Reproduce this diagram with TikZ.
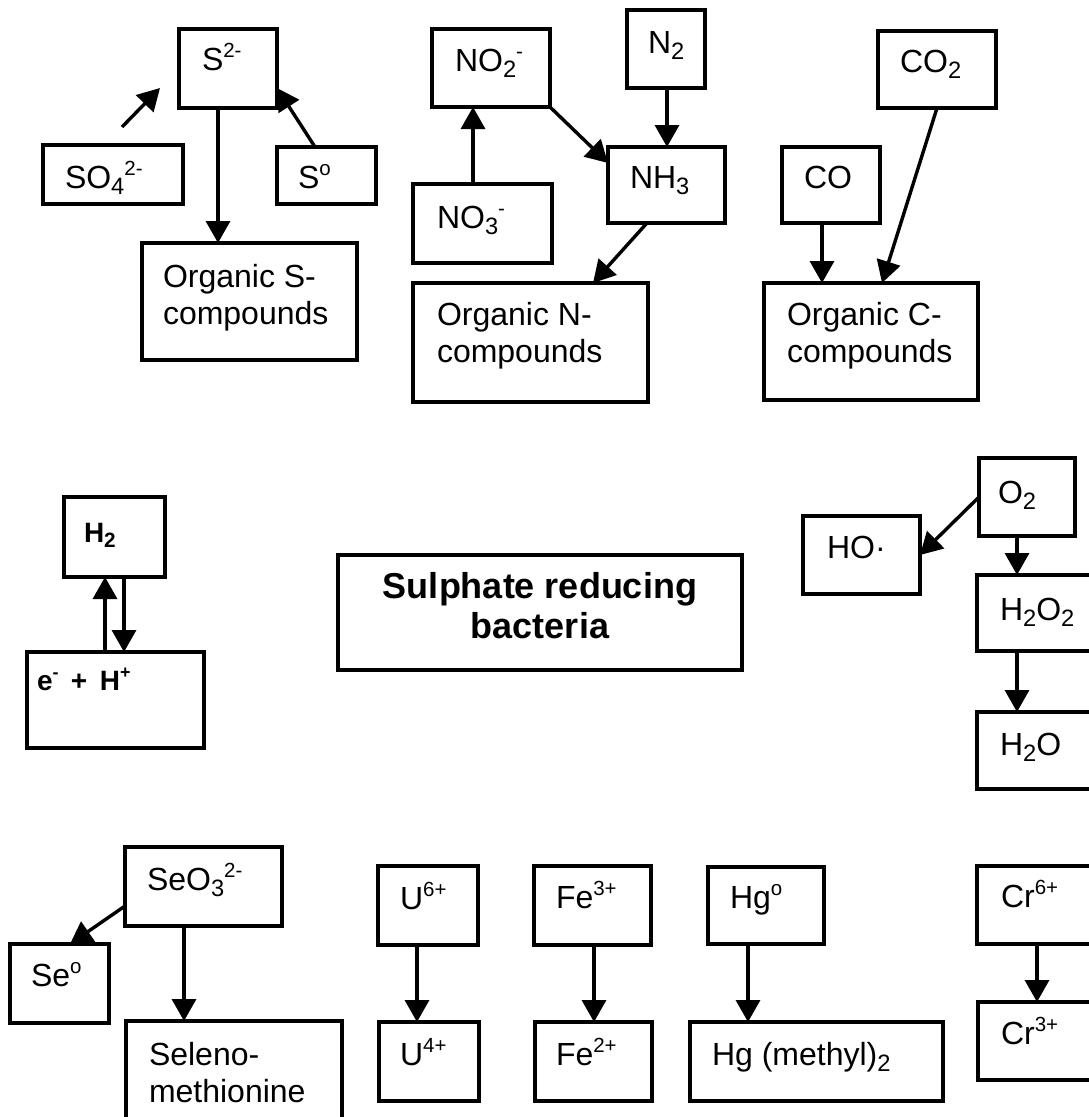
\documentclass[tikz,border=0pt]{standalone}
\usepackage{fontspec}
\usepackage{graphicx}
\setmainfont{Liberation Sans}
\usetikzlibrary{arrows.meta,calc}

% chemical sub- and superscripts, scaled from the current font
\newcommand\chsub[1]{\raisebox{-0.19em}{\scalebox{0.74}{#1}}}
\newcommand\chsup[1]{\raisebox{0.40em}{\scalebox{0.64}{#1}}}
\newcommand\nsize{\fontsize{32}{37}\selectfont}
\newcommand\bigbold{\fontsize{36}{40}\selectfont\bfseries}
\newcommand\smallbold{\fontsize{28}{30}\selectfont\bfseries}

% a framed box given by its corners (x1,y1) and (x2,y2), y pointing down
\newcommand\placebox[5]{%
  \node[chembox, minimum width=#4-#2, minimum height=#5-#3]
    (#1) at ({(#2+#4)/2},{(#3+#5)/2}) {};}

\tikzset{
  chembox/.style={draw, line width=3.4pt, rectangle, inner sep=0pt, outer sep=0pt},
  txt/.style={inner sep=0pt, outer sep=0pt, anchor=base west, font=\nsize},
  arr/.style={line width=3.4pt, -{Triangle[width=24pt,length=22pt]}},
}

\begin{document}
\begin{tikzpicture}[x=1pt, y=-1pt]
\useasboundingbox (0,0) rectangle (1089,1117);
\clip (0,0) rectangle (1089,1117);
\fill[white] (0,0) rectangle (1089,1117);

% ---------- sulphur ----------
\placebox{s2}{179}{29}{277}{108}
\placebox{so4}{43}{145}{183}{204}
\placebox{s0}{277}{147}{376}{204}
\placebox{orgS}{142}{243}{357}{360}
\node[txt] (s2t) at (202,70) {S\chsup{2-}};
\node[txt] (so4t) at (65,188) {SO\chsub{4}\chsup{2-}};
\node[txt] (s0t) at (298,188) {S\chsup{o}};
\node[txt] (orgSt) at (163,287) {\begin{tabular}[t]{@{}l@{}}Organic S-\\compounds\end{tabular}};

% ---------- nitrogen ----------
\placebox{no2}{432}{29}{550}{107}
\placebox{n2}{627}{10}{705}{88}
\placebox{nh3}{608}{147}{725}{223}
\placebox{no3}{413}{184}{552}{263}
\placebox{orgN}{413}{283}{648}{402}
\node[txt] (no2t) at (455,71) {NO\chsub{2}\chsup{-}};
\node[txt] (n2t) at (648,53) {N\chsub{2}};
\node[txt] (nh3t) at (630,188) {NH\chsub{3}};
\node[txt] (no3t) at (437,228) {NO\chsub{3}\chsup{-}};
\node[txt] (orgNt) at (437,325) {\begin{tabular}[t]{@{}l@{}}Organic N-\\compounds\end{tabular}};

% ---------- carbon ----------
\placebox{co2}{878}{31}{996}{108}
\placebox{co}{782}{147}{880}{223}
\placebox{orgC}{764}{283}{978}{400}
\node[txt] (co2t) at (900,72) {CO\chsub{2}};
\node[txt] (cot) at (804,188) {CO};
\node[txt] (orgCt) at (787,325) {\begin{tabular}[t]{@{}l@{}}Organic C-\\compounds\end{tabular}};

% ---------- hydrogen ----------
\placebox{h2}{64}{497}{165}{577}
\placebox{eh}{27}{652}{204}{748}
\node[txt, font=\smallbold] (h2t) at (84,542) {H\chsub{2}};
\node[txt, font=\smallbold] (eht) at (37,690) {e\chsup{-} \,+\, H\chsup{+}};

% ---------- centre ----------
\placebox{srb}{338}{555}{742}{670}
\node[txt, anchor=base, font=\bigbold] (srbt) at (540,598)
  {\begin{tabular}[t]{@{}c@{}}Sulphate reducing\\bacteria\end{tabular}};

% ---------- oxygen ----------
\placebox{o2}{979}{458}{1075}{536}
\placebox{ho}{803}{516}{920}{594}
\placebox{h2o2}{977}{575}{1100}{651}
\placebox{h2o}{977}{712}{1100}{789}
\node[txt] (o2t) at (998,503) {O\chsub{2}};
\node[txt] (hot) at (827,558) {HO·};
\node[txt] (h2o2t) at (1000,620) {H\chsub{2}O\chsub{2}};
\node[txt] (h2ot) at (1000,755) {H\chsub{2}O};

% ---------- selenium and metals ----------
\placebox{seo3}{125}{847}{282}{926}
\placebox{se0}{10}{944}{109}{1023}
\placebox{semet}{126}{1021}{342}{1135}
\placebox{u6}{378}{866}{478}{945}
\placebox{u4}{379}{1022}{479}{1101}
\placebox{fe3}{534}{866}{651}{945}
\placebox{fe2}{535}{1022}{652}{1101}
\placebox{hg0}{708}{867}{824}{944}
\placebox{hgme}{690}{1022}{943}{1101}
\placebox{cr6}{977}{866}{1100}{944}
\placebox{cr3}{978}{1002}{1100}{1080}
\node[txt] (seo3t) at (147,890) {SeO\chsub{3}\chsup{2-}};
\node[txt] (se0t) at (31,986) {Se\chsup{o}};
\node[txt] (semett) at (149,1065) {\begin{tabular}[t]{@{}l@{}}Seleno-\\methionine\end{tabular}};
\node[txt] (u6t) at (400,909) {U\chsup{6+}};
\node[txt] (u4t) at (400,1065) {U\chsup{4+}};
\node[txt] (fe3t) at (556,908) {Fe\chsup{3+}};
\node[txt] (fe2t) at (556,1065) {Fe\chsup{2+}};
\node[txt] (hg0t) at (730,908) {Hg\chsup{o}};
\node[txt] (hgmet) at (712,1065) {Hg (methyl)\chsub{2}};
\node[txt] (cr6t) at (1001,907) {Cr\chsup{6+}};
\node[txt] (cr3t) at (1001,1044) {Cr\chsup{3+}};

% ---------- reference points for the connectors ----------
\coordinate (so4tail) at (122,127);
\coordinate (so4head) at (160,88);
\coordinate (pS0) at (315,88);
\coordinate (xS) at (218,0);
\coordinate (xNO) at (473,0);
\coordinate (yNH) at (0,163);
\coordinate (xN2) at (667,0);
\coordinate (xNHa) at (647,0);
\coordinate (xNHb) at (593,0);
\coordinate (xCO) at (822,0);
\coordinate (xCO2a) at (937,0);
\coordinate (xCO2b) at (882,0);
\coordinate (xHup) at (105,0);
\coordinate (xHdn) at (124,0);
\coordinate (yO2) at (0,497);
\coordinate (yHO) at (0,555);
\coordinate (xO) at (1017,0);
\coordinate (ySe) at (0,906);
\coordinate (xSe0) at (70,0);
\coordinate (xSe) at (184,0);
\coordinate (xU) at (417,0);
\coordinate (xFe) at (594,0);
\coordinate (xHg) at (748,0);
\coordinate (xCr) at (1037,0);

% ---------- connectors ----------
\draw[arr] (so4tail) -- (so4head);
\draw[arr] (s0.north -| pS0) -- (s2.east |- pS0);
\draw[arr] (s2.south -| xS) -- (orgS.north -| xS);

\draw[arr] (no3.north -| xNO) -- (no2.south -| xNO);
\draw[arr] (no2.south east) -- (nh3.west |- yNH);
\draw[arr] (n2.south -| xN2) -- (nh3.north -| xN2);
\draw[arr] (nh3.south -| xNHa) -- (orgN.north -| xNHb);

\draw[arr] (co.south -| xCO) -- (orgC.north -| xCO);
\draw[arr] (co2.south -| xCO2a) -- (orgC.north -| xCO2b);

\draw[arr] (eh.north -| xHup) -- (h2.south -| xHup);
\draw[arr] (h2.south -| xHdn) -- (eh.north -| xHdn);

\draw[arr] (o2.west |- yO2) -- (ho.east |- yHO);
\draw[arr] (o2.south -| xO) -- (h2o2.north -| xO);
\draw[arr] (h2o2.south -| xO) -- (h2o.north -| xO);

\draw[arr] (seo3.west |- ySe) -- (se0.north -| xSe0);
\draw[arr] (seo3.south -| xSe) -- (semet.north -| xSe);
\draw[arr] (u6.south -| xU) -- (u4.north -| xU);
\draw[arr] (fe3.south -| xFe) -- (fe2.north -| xFe);
\draw[arr] (hg0.south -| xHg) -- (hgme.north -| xHg);
\draw[arr] (cr6.south -| xCr) -- (cr3.north -| xCr);
\end{tikzpicture}
\end{document}
